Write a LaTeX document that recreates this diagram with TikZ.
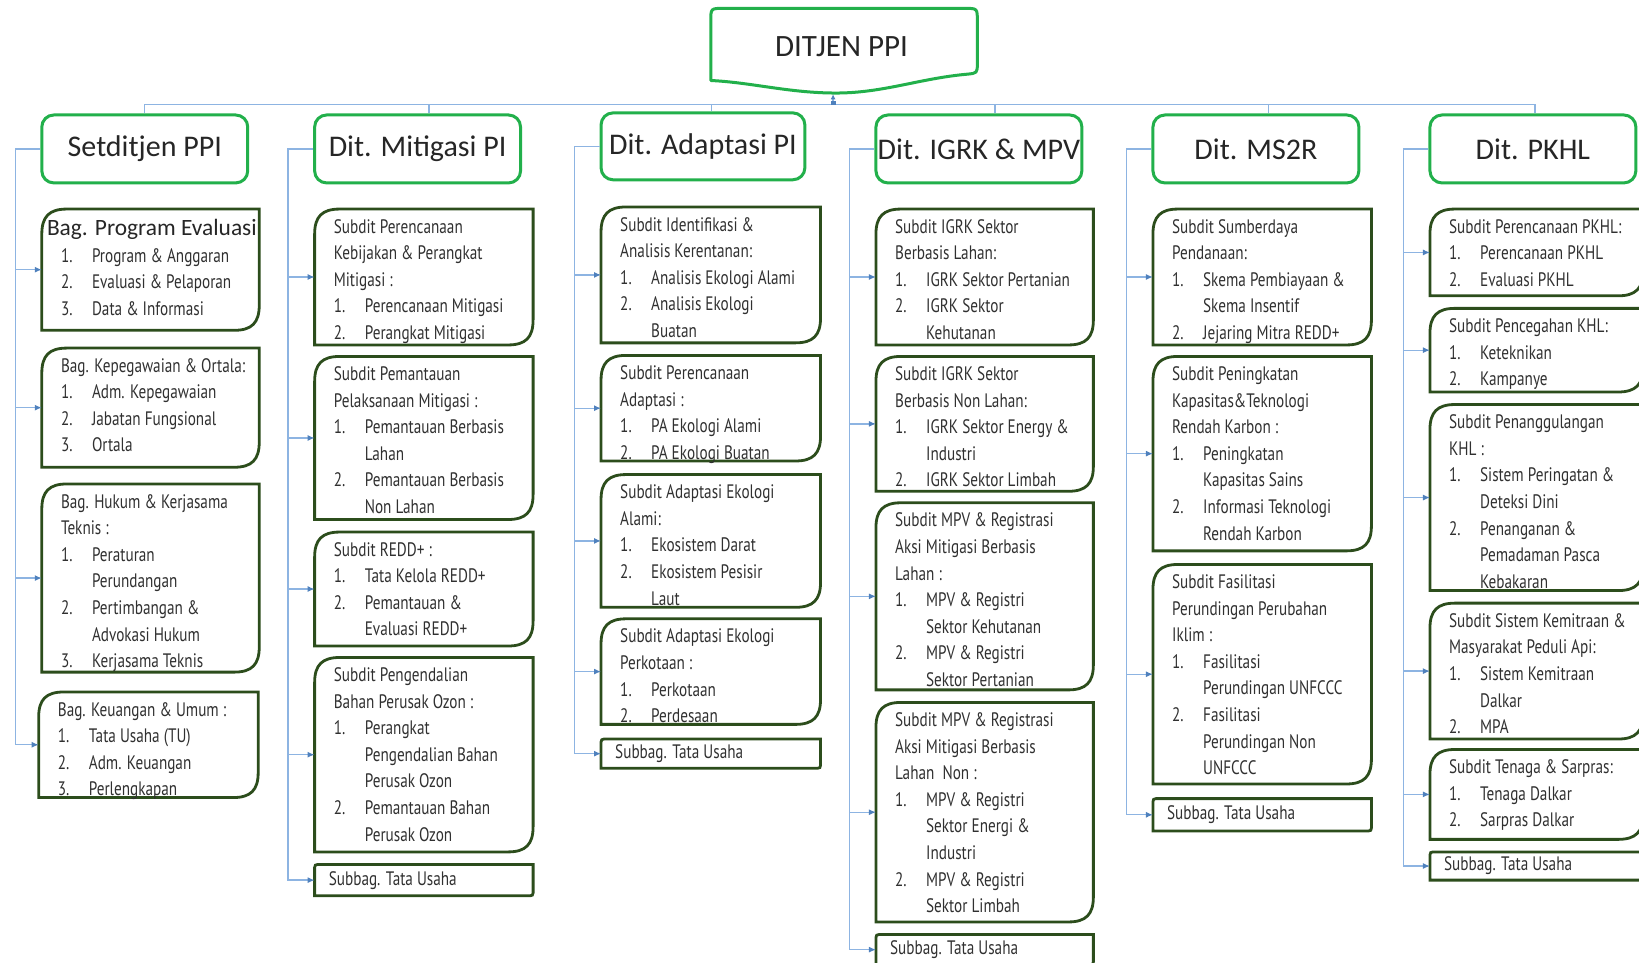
\documentclass[tikz,border=0pt]{standalone}
\usepackage{fontspec}
\setmainfont{Carlito}
\newfontfamily\dinf[FakeStretch=0.78]{PT Sans}
\usetikzlibrary{arrows.meta,calc}
\definecolor{hgreen}{HTML}{22B04B}
\definecolor{dkgreen}{HTML}{2C4D1C}
\definecolor{connc}{HTML}{8DB4E2}
\definecolor{tipc}{HTML}{4F81BD}
\definecolor{txtc}{HTML}{303030}
\newcommand\nm[1]{\makebox[31pt][l]{#1}}
\tikzset{
  hdr/.style={draw=hgreen, line width=3pt, rounded corners=12pt, fill=white,
    font=\fontsize{30}{34}\selectfont, text=black!85, inner sep=0pt},
  boxnode/.style={inner sep=0pt, outer sep=0pt},
  sline/.style={draw=dkgreen, line width=2.8pt},
  subtxt/.style={anchor=north west, inner sep=0pt, align=left,
    font=\dinf\fontsize{19.5}{26.6}\selectfont, text=txtc},
  cline/.style={draw=connc, line width=1.3pt},
  arr/.style={cline, -{Latex[length=7pt,width=6pt,color=tipc]}},
}
\newcommand\diagpath[2]{% name, radius
  \draw[sline] ([yshift=-#2]#1.north west) .. controls ([yshift=-0.3*#2]#1.north west) and ([xshift=0.3*#2]#1.north west) .. ([xshift=#2]#1.north west)
    -- (#1.north east) -- ([yshift=#2]#1.south east)
    .. controls ([yshift=0.3*#2]#1.south east) and ([xshift=-0.3*#2]#1.south east) .. ([xshift=-#2]#1.south east)
    -- (#1.south west) -- cycle;
}
\newcommand\orgbox[6]{%
  \node[boxnode, minimum width={(#4-#2)*1.0453pt}, minimum height={(#5-#3)*1.0453pt}]
    (#1) at ({(#2+#4)/2},{(#3+#5)/2}) {};
  \diagpath{#1}{25pt}
  \node[subtxt] at ([xshift=19pt,yshift=-10pt]#1.north west) {#6};
}
\newcommand\tubox[5]{%
  \node[boxnode, minimum width={(#4-#2)*1.0453pt}, minimum height={(#5-#3)*1.0453pt}]
    (#1) at ({(#2+#4)/2},{(#3+#5)/2}) {};
  \diagpath{#1}{3pt}
  \node[subtxt, anchor=west] at ([xshift=14pt]#1.west) {Subbag. Tata Usaha};
}
\newcommand\hdrbox[6]{%
  \node[hdr, minimum width={(#4-#2)*1.0453pt}, minimum height={(#5-#3)*1.0453pt}]
    (#1) at ({(#2+#4)/2},{(#3+#5)/2}) {#6};
}
\begin{document}
\begin{tikzpicture}[x=1.0453pt,y=-1.0453pt]
\useasboundingbox (0,0) rectangle (1568,921);
\clip (0,0) rectangle (1568,921);

% top box
\draw[draw=hgreen, line width=3pt, fill=white, line join=round]
  (680,77) -- (680,20) .. controls (680,8) .. (692,8) -- (923,8)
  .. controls (935,8) .. (935,20) -- (935,60) .. controls (935,70) .. (925,71)
  .. controls (880,75) and (845,89) .. (800,89)
  .. controls (755,89) and (720,79) .. (680,77) -- cycle;
\node[minimum width={255*1.0453pt}, minimum height={82*1.0453pt}, inner sep=0pt]
  (ditjen) at (807,49) {};
\node[font=\fontsize{31}{34}\selectfont, text=black!85] at (805,45) {DITJEN PPI};

% headers
\hdrbox{h1}{40}{110}{237}{175}{Setditjen PPI}
\hdrbox{h2}{301}{110}{498}{175}{Dit. Mitigasi PI}
\hdrbox{h3}{575}{108}{770}{172}{Dit. Adaptasi PI}
\hdrbox{h4}{838}{110}{1035}{175}{Dit. IGRK \& MPV}
\hdrbox{h5}{1103}{110}{1300}{175}{Dit. MS2R}
\hdrbox{h6}{1368}{110}{1565}{175}{Dit. PKHL}

% bar
\coordinate (bar) at (797,100);
\draw[cline] (h1.north) |- (bar) -| ([xshift=2pt]h6.north);
\draw[cline] ([xshift=11.5pt]h2.north) -- ([xshift=11.5pt]h2.north |- bar);
\draw[cline] ([xshift=8.5pt]h3.north) -- ([xshift=8.5pt]h3.north |- bar);
\draw[cline] ([xshift=16pt]h4.north) -- ([xshift=16pt]h4.north |- bar);
\draw[cline] ([xshift=12.5pt]h5.north) -- ([xshift=12.5pt]h5.north |- bar);
\draw[cline, {Square[length=4pt,width=5pt,color=tipc]}-{Latex[length=5pt,width=5pt,color=tipc]}]
  (bar) -- (bar |- ditjen.south);

% column 1
\orgbox{b11}{40}{200}{248}{316}{\hspace*{-14pt}{\normalfont\fontsize{23.4}{26}\selectfont\color{black!85}Bag. Program Evaluasi}\\
 \nm{1.}Program \& Anggaran\\ \nm{2.}Evaluasi \& Pelaporan\\ \nm{3.}Data \& Informasi}
\orgbox{b12}{40}{333}{248}{447}{Bag. Kepegawaian \& Ortala:\\ \nm{1.}Adm. Kepegawaian\\ \nm{2.}Jabatan Fungsional\\ \nm{3.}Ortala}
\orgbox{b13}{40}{463}{248}{643}{Bag. Hukum \& Kerjasama\\ Teknis :\\ \nm{1.}Peraturan\\ \nm{}Perundangan\\ \nm{2.}Pertimbangan \&\\ \nm{}Advokasi Hukum\\ \nm{3.}Kerjasama Teknis}
\orgbox{b14}{37}{662}{247}{763}{Bag. Keuangan \& Umum :\\ \nm{1.}Tata Usaha (TU)\\ \nm{2.}Adm. Keuangan\\ \nm{3.}Perlengkapan}

% column 2
\orgbox{b21}{301}{200}{510}{330}{Subdit Perencanaan\\ Kebijakan \& Perangkat\\ Mitigasi :\\ \nm{1.}Perencanaan Mitigasi\\ \nm{2.}Perangkat Mitigasi}
\orgbox{b22}{301}{341}{510}{497}{Subdit Pemantauan\\ Pelaksanaan Mitigasi :\\ \nm{1.}Pemantauan Berbasis\\ \nm{}Lahan\\ \nm{2.}Pemantauan Berbasis\\ \nm{}Non Lahan}
\orgbox{b23}{301}{509}{510}{618}{Subdit REDD+ :\\ \nm{1.}Tata Kelola REDD+\\ \nm{2.}Pemantauan \&\\ \nm{}Evaluasi REDD+}
\orgbox{b24}{301}{629}{510}{815}{Subdit Pengendalian\\ Bahan Perusak Ozon :\\ \nm{1.}Perangkat\\ \nm{}Pengendalian Bahan\\ \nm{}Perusak Ozon\\ \nm{2.}Pemantauan Bahan\\ \nm{}Perusak Ozon}
\tubox{b25}{301}{827}{510}{857}

% column 3
\orgbox{b31}{575}{198}{785}{328}{Subdit Identifikasi \&\\ Analisis Kerentanan:\\ \nm{1.}Analisis Ekologi Alami\\ \nm{2.}Analisis Ekologi\\ \nm{}Buatan}
\orgbox{b32}{575}{340}{785}{441}{Subdit Perencanaan\\ Adaptasi :\\ \nm{1.}PA Ekologi Alami\\ \nm{2.}PA Ekologi Buatan}
\orgbox{b33}{575}{454}{785}{581}{Subdit Adaptasi Ekologi\\ Alami:\\ \nm{1.}Ekosistem Darat\\ \nm{2.}Ekosistem Pesisir\\ \nm{}Laut}
\orgbox{b34}{575}{592}{785}{693}{Subdit Adaptasi Ekologi\\ Perkotaan :\\ \nm{1.}Perkotaan\\ \nm{2.}Perdesaan}
\tubox{b35}{575}{707}{785}{735}

% column 4
\orgbox{b41}{838}{200}{1046}{330}{Subdit IGRK Sektor\\ Berbasis Lahan:\\ \nm{1.}IGRK Sektor Pertanian\\ \nm{2.}IGRK Sektor\\ \nm{}Kehutanan}
\orgbox{b42}{838}{341}{1046}{470}{Subdit IGRK Sektor\\ Berbasis Non Lahan:\\ \nm{1.}IGRK Sektor Energy \&\\ \nm{}Industri\\ \nm{2.}IGRK Sektor Limbah}
\orgbox{b43}{838}{481}{1046}{660}{Subdit MPV \& Registrasi\\ Aksi Mitigasi Berbasis\\ Lahan :\\ \nm{1.}MPV \& Registri\\ \nm{}Sektor Kehutanan\\ \nm{2.}MPV \& Registri\\ \nm{}Sektor Pertanian}
\orgbox{b44}{838}{672}{1046}{882}{Subdit MPV \& Registrasi\\ Aksi Mitigasi Berbasis\\ Lahan~ Non :\\ \nm{1.}MPV \& Registri\\ \nm{}Sektor Energi \&\\ \nm{}Industri\\ \nm{2.}MPV \& Registri\\ \nm{}Sektor Limbah}
\tubox{b45}{838}{894}{1046}{923}

% column 5
\orgbox{b51}{1103}{200}{1312}{330}{Subdit Sumberdaya\\ Pendanaan:\\ \nm{1.}Skema Pembiayaan \&\\ \nm{}Skema Insentif\\ \nm{2.}Jejaring Mitra REDD+}
\orgbox{b52}{1103}{341}{1312}{527}{Subdit Peningkatan\\ Kapasitas\&Teknologi\\ Rendah Karbon :\\ \nm{1.}Peningkatan\\ \nm{}Kapasitas Sains\\ \nm{2.}Informasi Teknologi\\ \nm{}Rendah Karbon}
\orgbox{b53}{1103}{540}{1312}{750}{Subdit Fasilitasi\\ Perundingan Perubahan\\ Iklim :\\ \nm{1.}Fasilitasi\\ \nm{}Perundingan UNFCCC\\ \nm{2.}Fasilitasi\\ \nm{}Perundingan Non\\ \nm{}UNFCCC}
\tubox{b54}{1103}{764}{1312}{795}

% column 6
\orgbox{b61}{1368}{200}{1572}{283}{Subdit Perencanaan PKHL:\\ \nm{1.}Perencanaan PKHL\\ \nm{2.}Evaluasi PKHL}
\orgbox{b62}{1368}{295}{1572}{375}{Subdit Pencegahan KHL:\\ \nm{1.}Keteknikan\\ \nm{2.}Kampanye}
\orgbox{b63}{1368}{387}{1572}{565}{Subdit Penanggulangan\\ KHL :\\ \nm{1.}Sistem Peringatan \&\\ \nm{}Deteksi Dini\\ \nm{2.}Penanganan \&\\ \nm{}Pemadaman Pasca\\ \nm{}Kebakaran}
\orgbox{b64}{1368}{577}{1572}{707}{Subdit Sistem Kemitraan \&\\ Masyarakat Peduli Api:\\ \nm{1.}Sistem Kemitraan\\ \nm{}Dalkar\\ \nm{2.}MPA}
\orgbox{b65}{1368}{717}{1572}{803}{Subdit Tenaga \& Sarpras:\\ \nm{1.}Tenaga Dalkar\\ \nm{2.}Sarpras Dalkar}
\tubox{b66}{1368}{815}{1572}{842}

% connectors
\foreach \h/\list in {h1/{b11,b12,b13,b14}, h2/{b21,b22,b23,b24,b25},
   h3/{b31,b32,b33,b34,b35}, h4/{b41,b42,b43,b44,b45},
   h5/{b51,b52,b53,b54}, h6/{b61,b62,b63,b64,b65,b66}}{
  \foreach \b in \list {
    \draw[arr] (\h.west) -- ++(-24,0) |- (\b.west);
  }
}
\end{tikzpicture}
\end{document}
